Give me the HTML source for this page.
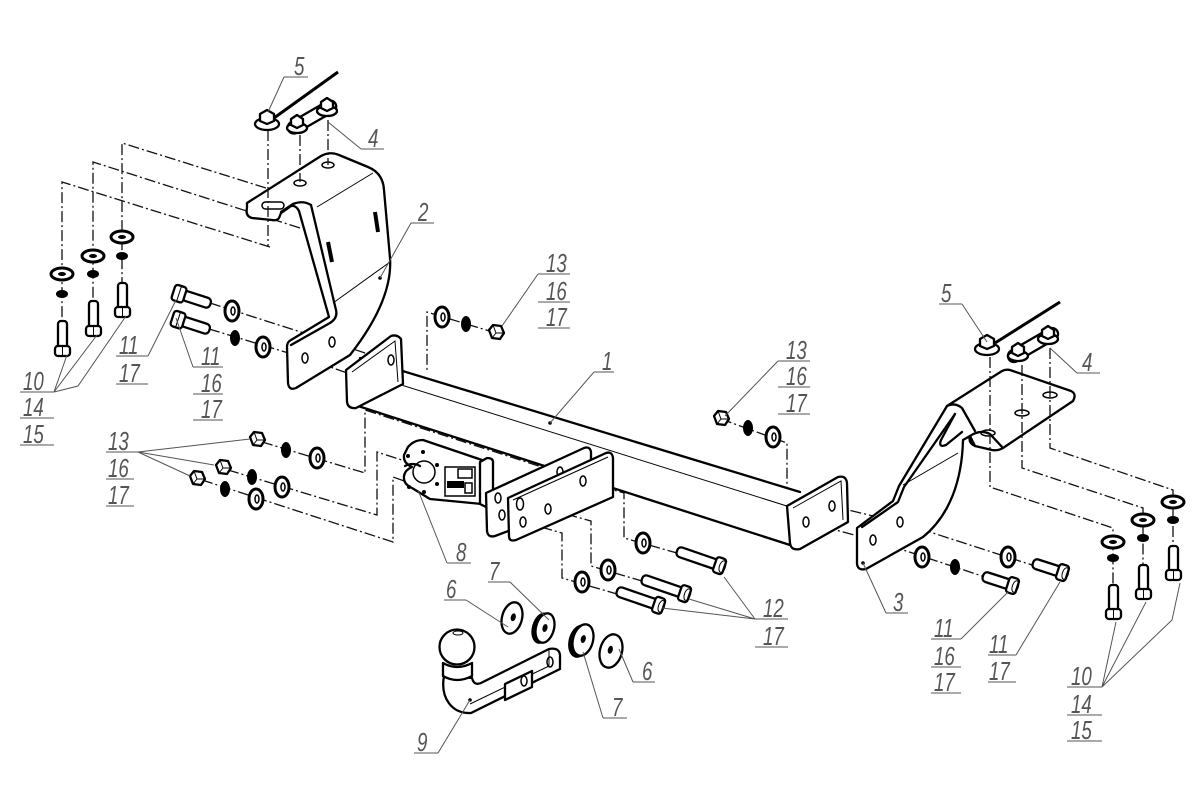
<!DOCTYPE html>
<html><head><meta charset="utf-8"><style>
html,body{margin:0;padding:0;background:#fff;}
svg{display:block;}
.o{fill:#fff;stroke:#000;stroke-width:2.3;stroke-linejoin:round;}
.n{fill:none;stroke:#000;stroke-width:2.3;stroke-linejoin:round;stroke-linecap:round;}
.t{fill:none;stroke:#000;stroke-width:1;}
.d{fill:none;stroke:#111;stroke-width:1.3;stroke-dasharray:11 3 2 3;}
.l{fill:none;stroke:#555;stroke-width:1;}
.w{fill:#fff;stroke:#000;stroke-width:3;}
.h{fill:none;stroke:#000;stroke-width:1.5;}
.k{fill:#000;}
text{font-family:"Liberation Sans",sans-serif;font-style:italic;font-size:26px;fill:#555;}
</style></head><body>
<svg width="1200" height="796" viewBox="0 0 1200 796" xmlns="http://www.w3.org/2000/svg">
<rect width="1200" height="796" fill="#fff"/>

<path class="d" d="M270,247 L62,182 V322"/>
<path class="d" d="M300,228 L93,162 V302"/>
<path class="d" d="M266,188 L122,143 V283"/>
<path class="d" d="M210,303 L332,342 L392,362"/>
<path class="d" d="M209,329 L305,358 L350,374"/>
<path class="d" d="M262,442 L365,473 V410 L545,468"/>
<path class="d" d="M228,470 L377,515 V452 L405,461"/>
<path class="d" d="M202,480 L393,542 V477 L410,483"/>
<path class="d" d="M496,333 L427,312 V372"/>
<path class="d" d="M721,419 L787,443 V492"/>
<path class="d" d="M523,522 L562,533 V578 L617,594"/>
<path class="d" d="M548,509 L591,521 V566 L642,581"/>
<path class="d" d="M583,481 L624,493 V538 L677,553"/>
<path class="d" d="M873,540 L985,577"/>
<path class="d" d="M902,523 L1035,566"/>
<path class="d" d="M806,522 L873,540"/>
<path class="d" d="M832,506 L902,523"/>

<path class="o" d="M247,203 L321,156 Q330,151 339,155 L368,167 Q383,173 384,190 L390,258 Q393,300 350,355 L296,388 Q289,391 288,383 L287,347 Q287,342 291,340 L329,317 L299,211 Q296,205 291,206 L281,213 L279,218 Q277,221 272,220 L252,218 Q245,216 247,208 Z"/>
<path class="n" d="M281,212 L293,204 Q303,200 311,205"/>
<path class="n" d="M311,205 L336,310 Q338,318 330,323 L291,345"/>
<path class="t" d="M317,207 L373,173"/>
<path class="t" d="M333,303 L390,262"/>
<rect x="262" y="202" width="22" height="7" rx="3.5" class="h" fill="#fff"/>
<ellipse cx="300" cy="183" rx="6" ry="3" class="h"/>
<ellipse cx="328" cy="165" rx="6" ry="3" class="h"/>
<line x1="375" y1="212" x2="378" y2="232" stroke="#000" stroke-width="4"/>
<line x1="328" y1="242" x2="332" y2="262" stroke="#000" stroke-width="4"/>
<ellipse cx="305" cy="358" rx="3" ry="5" class="h"/>
<ellipse cx="332" cy="342" rx="3" ry="5" class="h"/>
<circle cx="380" cy="278" r="1.8" fill="#000"/>

<path d="M360,358 L800,492 L790,545 L358,406 Z" fill="#fff"/>
<path class="n" d="M360,358 L800,492"/>
<path class="t" d="M360,372 L790,507"/>
<path class="n" d="M358,406 L790,545"/>
<path class="o" d="M346,370 L391,336 Q397,334 401,339 L403,384 L356,408 Q348,409 347,402 Z"/>
<path class="t" d="M352,372 L395,341 L398,382"/>
<ellipse cx="391" cy="360" rx="3" ry="5" class="h"/>
<path class="o" d="M787,506 L838,477 Q846,475 847,483 L848,522 L800,549 Q791,551 790,543 Z"/>
<path class="t" d="M793,508 L841,481 L843,520"/>
<ellipse cx="806" cy="522" rx="3" ry="5" class="h"/>
<ellipse cx="832" cy="506" rx="3" ry="5" class="h"/>
<circle cx="550" cy="423" r="1.8" fill="#000"/>

<path class="o" d="M408,447 Q414,440 423,440 L482,460 L482,504 L430,499 L412,488 Q403,484 404,476 Q405,470 412,467 Q403,463 404,455 Z"/>
<path class="n" d="M405,466 Q413,462 420,466"/>
<circle cx="424" cy="472" r="11" class="h" fill="#fff"/>
<circle cx="408" cy="456" r="2" fill="#000"/><circle cx="423" cy="452" r="2" fill="#000"/>
<circle cx="437" cy="465" r="2" fill="#000"/><circle cx="437" cy="484" r="2" fill="#000"/>
<circle cx="409" cy="487" r="2" fill="#000"/><circle cx="424" cy="492" r="2" fill="#000"/>
<path class="o" d="M480,462 L487,458 Q493,458 493,462 L493,503 L486,507 L480,504 Z"/>
<rect x="445" y="467" width="30" height="29" class="h"/>
<rect x="458" y="469" width="14" height="9" class="h"/>
<rect x="447" y="481" width="17" height="7" fill="#000"/>
<rect x="465" y="483" width="7" height="10" class="h"/>

<path class="o" d="M486,493 L584,448 Q590,446 591,452 L591,500 L495,536 Q488,538 487,531 Z"/>
<ellipse cx="498" cy="498" rx="3" ry="5" class="h"/>
<ellipse cx="502" cy="515" rx="3" ry="5" class="h"/>
<ellipse cx="560" cy="472" rx="3" ry="5" class="h"/>
<path class="o" d="M508,498 L606,453 Q612,451 613,458 L613,497 L516,540 Q509,542 509,536 Z"/>
<path class="t" d="M513,500 L608,457"/>
<ellipse cx="520" cy="504" rx="3.5" ry="6" class="h"/>
<ellipse cx="523" cy="522" rx="3" ry="5" class="h"/>
<ellipse cx="548" cy="509" rx="3" ry="5" class="h"/>
<ellipse cx="583" cy="481" rx="3" ry="5" class="h"/>

<path class="o" d="M963,440 C962,480 950,515 923,537 L866,569 Q858,571 857,564 L857,528 L893,501 L899,486 L947,406 L1002,371 Q1006,369 1010,370 L1071,391 Q1077,394 1073,401 L1003,448 Q998,451 992,450 L975,446 Q968,443 970,436 Z"/>
<path class="n" d="M955,414 L904,487 L898,502 L862,527"/>
<path class="n" d="M947,406 Q955,402 962,408 L975,431"/>
<path class="n" d="M955,414 L941,440 Q938,448 946,445 L962,432"/>
<path class="t" d="M903,485 L958,453"/>
<path class="n" d="M975,446 L970,436 Q980,429 990,434 L1003,448"/>
<ellipse cx="988" cy="433" rx="7" ry="3" class="h"/>
<ellipse cx="1022" cy="413" rx="7" ry="3" class="h"/>
<ellipse cx="1050" cy="395" rx="7" ry="3" class="h"/>
<ellipse cx="873" cy="540" rx="3" ry="5" class="h"/>
<ellipse cx="900" cy="522" rx="3" ry="5" class="h"/>
<circle cx="863" cy="563" r="1.8" fill="#000"/>

<path class="d" d="M268,130 V247"/>
<path class="d" d="M300,135 V182"/>
<path class="d" d="M328,120 V165"/>
<path class="d" d="M990,357 V487 L1113,528 V612"/>
<path class="d" d="M1022,365 V468 L1143,508 V592"/>
<path class="d" d="M1050,348 V448 L1173,490 V572"/>

<line x1="274" y1="118" x2="338" y2="72" stroke="#000" stroke-width="3"/>
<line x1="995" y1="343" x2="1060" y2="302" stroke="#000" stroke-width="3"/>
<g transform="translate(312,117) rotate(-30)"><rect x="-27" y="-6" width="54" height="12" rx="6" class="o"/></g>
<g transform="translate(1033,345) rotate(-30)"><rect x="-28" y="-6" width="56" height="12" rx="6" class="o"/></g>
<g class="o">
<ellipse cx="267" cy="124" rx="12" ry="6"/><path d="M260,121 L260,114 L267,110 L274,114 L274,121 L267,124 Z"/>
<ellipse cx="297" cy="128" rx="10" ry="5"/><path d="M291,125 L291,119 L297,115 L303,119 L303,125 L297,128 Z"/>
<ellipse cx="327" cy="111" rx="10" ry="5"/><path d="M321,108 L321,102 L327,98 L333,102 L333,108 L327,111 Z"/>
<ellipse cx="987" cy="349" rx="12" ry="6"/><path d="M980,346 L980,339 L987,335 L994,339 L994,346 L987,349 Z"/>
<ellipse cx="1018" cy="356" rx="10" ry="5"/><path d="M1012,353 L1012,347 L1018,343 L1024,347 L1024,353 L1018,356 Z"/>
<ellipse cx="1048" cy="339" rx="10" ry="5"/><path d="M1042,336 L1042,330 L1048,326 L1054,330 L1054,336 L1048,339 Z"/>
</g>

<g class="o" stroke-width="2.6">
<path d="M250,437 L254,432 L262,433 L265,440 L261,446 L253,445 Z"/>
<path d="M216,465 L220,460 L228,461 L231,468 L227,474 L219,473 Z"/>
<path d="M190,476 L194,471 L202,472 L205,479 L201,485 L193,484 Z"/>
<path d="M489,330 L493,325 L501,326 L504,333 L500,339 L492,338 Z"/>
<path d="M714,416 L718,411 L726,412 L729,419 L725,425 L717,424 Z"/>
</g>
<g class="t">
<path d="M254,432 L257,440 L265,440 M257,440 L253,445"/>
<path d="M220,460 L223,468 L231,468 M223,468 L219,473"/>
<path d="M194,471 L197,479 L205,479 M197,479 L193,484"/>
<path d="M493,325 L496,333 L504,333 M496,333 L492,338"/>
<path d="M718,411 L721,419 L729,419 M721,419 L717,424"/>
</g>

<g class="k">
<ellipse cx="286" cy="450" rx="5" ry="8"/><ellipse cx="252" cy="477" rx="5" ry="8"/><ellipse cx="225" cy="489" rx="5" ry="8"/>
<ellipse cx="466" cy="324" rx="5" ry="8"/><ellipse cx="748" cy="428" rx="5" ry="8"/>
<ellipse cx="235" cy="338" rx="5" ry="8"/><ellipse cx="955" cy="567" rx="5" ry="8"/>
</g>
<g>
<ellipse class="w" cx="317" cy="458" rx="7" ry="10"/><ellipse class="h" cx="318" cy="458" rx="2" ry="4"/>
<ellipse class="w" cx="282" cy="487" rx="7" ry="10"/><ellipse class="h" cx="283" cy="487" rx="2" ry="4"/>
<ellipse class="w" cx="256" cy="499" rx="7" ry="10"/><ellipse class="h" cx="257" cy="499" rx="2" ry="4"/>
<ellipse class="w" cx="442" cy="317" rx="7" ry="10"/><ellipse class="h" cx="443" cy="317" rx="2" ry="4"/>
<ellipse class="w" cx="773" cy="437" rx="7" ry="10"/><ellipse class="h" cx="774" cy="437" rx="2" ry="4"/>
<ellipse class="w" cx="232" cy="311" rx="7" ry="10"/><ellipse class="h" cx="233" cy="311" rx="2" ry="4"/>
<ellipse class="w" cx="263" cy="347" rx="7" ry="10"/><ellipse class="h" cx="264" cy="347" rx="2" ry="4"/>
<ellipse class="w" cx="922" cy="557" rx="7" ry="10"/><ellipse class="h" cx="923" cy="557" rx="2" ry="4"/>
<ellipse class="w" cx="1008" cy="557" rx="7" ry="10"/><ellipse class="h" cx="1009" cy="557" rx="2" ry="4"/>
<ellipse class="w" cx="582" cy="582" rx="7" ry="10"/><ellipse class="h" cx="583" cy="582" rx="2" ry="4"/>
<ellipse class="w" cx="608" cy="570" rx="7" ry="10"/><ellipse class="h" cx="609" cy="570" rx="2" ry="4"/>
<ellipse class="w" cx="643" cy="543" rx="7" ry="10"/><ellipse class="h" cx="644" cy="543" rx="2" ry="4"/>
</g>

<g transform="translate(180,294) rotate(18)"><rect x="3" y="-5" width="29" height="10" rx="4" class="o"/><rect x="-7" y="-8" width="12" height="16" rx="3" class="o"/><line x1="-1" y1="-8" x2="-1" y2="8" class="t"/></g>
<g transform="translate(179,320) rotate(18)"><rect x="3" y="-5" width="29" height="10" rx="4" class="o"/><rect x="-7" y="-8" width="12" height="16" rx="3" class="o"/><line x1="-1" y1="-8" x2="-1" y2="8" class="t"/></g>
<g transform="translate(983,576) rotate(18)"><rect x="0" y="-5" width="30" height="10" rx="4" class="o"/><rect x="26" y="-8" width="10" height="16" rx="3" class="o"/><ellipse cx="34" cy="0" rx="3" ry="6" class="t"/></g>
<g transform="translate(1033,563) rotate(18)"><rect x="0" y="-5" width="30" height="10" rx="4" class="o"/><rect x="26" y="-8" width="10" height="16" rx="3" class="o"/><ellipse cx="34" cy="0" rx="3" ry="6" class="t"/></g>
<g transform="translate(617,591) rotate(19)"><rect x="0" y="-5" width="43" height="10" rx="4" class="o"/><rect x="39" y="-8" width="10" height="16" rx="3" class="o"/><ellipse cx="47" cy="0" rx="3" ry="6" class="t"/></g>
<g transform="translate(642,579) rotate(19)"><rect x="0" y="-5" width="44" height="10" rx="4" class="o"/><rect x="40" y="-8" width="10" height="16" rx="3" class="o"/><ellipse cx="48" cy="0" rx="3" ry="6" class="t"/></g>
<g transform="translate(677,551) rotate(19)"><rect x="0" y="-5" width="44" height="10" rx="4" class="o"/><rect x="40" y="-8" width="10" height="16" rx="3" class="o"/><ellipse cx="48" cy="0" rx="3" ry="6" class="t"/></g>

<g>
<ellipse class="w" cx="62" cy="274" rx="11" ry="6" stroke-width="2.5"/><ellipse class="k" cx="62" cy="274" rx="4" ry="2"/>
<ellipse class="w" cx="93" cy="256" rx="11" ry="6" stroke-width="2.5"/><ellipse class="k" cx="93" cy="256" rx="4" ry="2"/>
<ellipse class="w" cx="122" cy="237" rx="11" ry="6" stroke-width="2.5"/><ellipse class="k" cx="122" cy="237" rx="4" ry="2"/>
<ellipse class="w" cx="1113" cy="542" rx="11" ry="6" stroke-width="2.5"/><ellipse class="k" cx="1113" cy="542" rx="4" ry="2"/>
<ellipse class="w" cx="1143" cy="520" rx="11" ry="6" stroke-width="2.5"/><ellipse class="k" cx="1143" cy="520" rx="4" ry="2"/>
<ellipse class="w" cx="1173" cy="502" rx="11" ry="6" stroke-width="2.5"/><ellipse class="k" cx="1173" cy="502" rx="4" ry="2"/>
</g>
<g class="k">
<ellipse cx="62" cy="294" rx="6" ry="4"/><ellipse cx="93" cy="274" rx="6" ry="4"/><ellipse cx="122" cy="256" rx="6" ry="4"/>
<ellipse cx="1113" cy="558" rx="6" ry="4"/><ellipse cx="1143" cy="538" rx="6" ry="4"/><ellipse cx="1173" cy="520" rx="6" ry="4"/>
</g>
<g>
<rect x="58" y="321" width="9" height="28" rx="3" class="o"/><rect x="55" y="346" width="15" height="10" rx="3" class="o"/><line x1="62.5" y1="346" x2="62.5" y2="356" class="t"/>
<rect x="89" y="301" width="9" height="28" rx="3" class="o"/><rect x="86" y="326" width="15" height="10" rx="3" class="o"/><line x1="93.5" y1="326" x2="93.5" y2="336" class="t"/>
<rect x="118" y="283" width="9" height="27" rx="3" class="o"/><rect x="115" y="307" width="15" height="10" rx="3" class="o"/><line x1="122.5" y1="307" x2="122.5" y2="317" class="t"/>
<rect x="1109" y="585" width="9" height="27" rx="3" class="o"/><rect x="1106" y="609" width="15" height="10" rx="3" class="o"/><line x1="1113.5" y1="609" x2="1113.5" y2="619" class="t"/>
<rect x="1139" y="565" width="9" height="27" rx="3" class="o"/><rect x="1136" y="589" width="15" height="10" rx="3" class="o"/><line x1="1143.5" y1="589" x2="1143.5" y2="599" class="t"/>
<rect x="1169" y="546" width="9" height="27" rx="3" class="o"/><rect x="1166" y="570" width="15" height="10" rx="3" class="o"/><line x1="1173.5" y1="570" x2="1173.5" y2="580" class="t"/>
</g>

<g transform="rotate(15 512 618)"><ellipse cx="512" cy="618" rx="10" ry="16" class="o" stroke-width="2.5"/><ellipse cx="513" cy="617" rx="2.5" ry="4" class="k"/></g>
<g transform="rotate(15 545 628)"><ellipse cx="542" cy="629" rx="10" ry="16" class="k"/><ellipse cx="545" cy="628" rx="9" ry="15" class="o"/><ellipse cx="545" cy="628" rx="2.5" ry="4" class="k"/></g>
<g transform="rotate(15 583 640)"><ellipse cx="580" cy="642" rx="11" ry="17" class="k"/><ellipse cx="583" cy="640" rx="10" ry="16" class="o"/><ellipse cx="583" cy="639" rx="2.5" ry="4" class="k"/></g>
<g transform="rotate(15 611 651)"><ellipse cx="611" cy="651" rx="11" ry="17" class="o" stroke-width="2.5"/><ellipse cx="610" cy="650" rx="2.5" ry="4" class="k"/></g>

<path class="o" d="M444,676 C440,698 452,714 471,713 L560,669 L560,655 Q559,647 549,649 L481,683 Q474,686 472,678 Z"/>
<path class="t" d="M549,650 L549,666 L470,704"/>
<path class="o" d="M505,684 L532,671 L532,687 L505,700 Z"/>
<ellipse cx="524" cy="681" rx="3" ry="5" class="h"/>
<ellipse cx="550" cy="662" rx="3" ry="5" class="h"/>
<path class="o" d="M443,663 Q457,671 472,663 L472,676 Q457,684 443,676 Z"/>
<circle cx="457" cy="647" r="17.5" class="o"/>
<ellipse cx="458" cy="633" rx="5" ry="2" class="t"/>
<circle cx="470" cy="700" r="1.8" fill="#000"/>

<g class="l">
<path d="M284,77 L268,112"/><line x1="284" y1="77" x2="308" y2="77"/>
<path d="M361,149 L328,122"/><line x1="361" y1="149" x2="384" y2="149"/>
<path d="M411,223 L380,278"/><line x1="411" y1="223" x2="434" y2="223"/>
<path d="M54,392 L67,355 M54,392 L97,335 M54,392 L78,386 L126,316"/>
<line x1="20" y1="392" x2="54" y2="392"/><line x1="20" y1="418" x2="54" y2="418"/><line x1="20" y1="445" x2="54" y2="445"/>
<path d="M148,356 L176,300"/><line x1="116" y1="356" x2="148" y2="356"/><line x1="116" y1="384" x2="148" y2="384"/>
<path d="M193,367 L176,318"/><line x1="193" y1="367" x2="223" y2="367"/><line x1="193" y1="394" x2="223" y2="394"/><line x1="193" y1="420" x2="223" y2="420"/>
<path d="M138,452 L250,439 M138,452 L214,465 M138,452 L190,476"/>
<line x1="106" y1="452" x2="138" y2="452"/><line x1="106" y1="479" x2="134" y2="479"/><line x1="106" y1="506" x2="134" y2="506"/>
<path d="M538,274 L502,326"/><line x1="538" y1="274" x2="570" y2="274"/><line x1="538" y1="302" x2="570" y2="302"/><line x1="538" y1="328" x2="570" y2="328"/>
<path d="M594,372 L550,423"/><line x1="594" y1="372" x2="614" y2="372"/>
<path d="M778,361 L725,416"/><line x1="778" y1="361" x2="810" y2="361"/><line x1="778" y1="387" x2="810" y2="387"/><line x1="778" y1="414" x2="810" y2="414"/>
<path d="M962,304 L987,342"/><line x1="939" y1="304" x2="962" y2="304"/>
<path d="M1077,373 L1050,348"/><line x1="1077" y1="373" x2="1100" y2="373"/>
<path d="M886,613 L863,563"/><line x1="886" y1="613" x2="908" y2="613"/>
<path d="M447,563 L418,490"/><line x1="447" y1="563" x2="471" y2="563"/>
<path d="M466,600 L508,627"/><line x1="444" y1="600" x2="466" y2="600"/>
<path d="M510,582 L549,620"/><line x1="488" y1="582" x2="510" y2="582"/>
<path d="M755,619 L724,577 M755,619 L689,599 M755,619 L662,608"/>
<line x1="755" y1="619" x2="788" y2="619"/><line x1="755" y1="647" x2="788" y2="647"/>
<path d="M633,682 L619,649"/><line x1="633" y1="682" x2="655" y2="682"/>
<path d="M603,718 L583,652"/><line x1="603" y1="718" x2="627" y2="718"/>
<path d="M438,753 L470,700"/><line x1="414" y1="753" x2="438" y2="753"/>
<path d="M961,639 L1008,592"/><line x1="931" y1="639" x2="961" y2="639"/><line x1="931" y1="667" x2="961" y2="667"/><line x1="931" y1="693" x2="961" y2="693"/>
<path d="M1016,655 L1060,582"/><line x1="988" y1="655" x2="1016" y2="655"/><line x1="988" y1="682" x2="1016" y2="682"/>
<path d="M1102,687 L1116,622 M1102,687 L1146,602 M1102,687 L1172,620 L1180,583"/>
<line x1="1067" y1="687" x2="1102" y2="687"/><line x1="1067" y1="715" x2="1102" y2="715"/><line x1="1067" y1="741" x2="1102" y2="741"/>
</g>

<text transform="matrix(0.72 0 0 1 294 75)">5</text>
<text transform="matrix(0.72 0 0 1 368 147)">4</text>
<text transform="matrix(0.72 0 0 1 418 221)">2</text>
<text transform="matrix(0.72 0 0 1 23 390)">10</text>
<text transform="matrix(0.72 0 0 1 23 416)">14</text>
<text transform="matrix(0.72 0 0 1 23 443)">15</text>
<text transform="matrix(0.72 0 0 1 119 354)">11</text>
<text transform="matrix(0.72 0 0 1 119 382)">17</text>
<text transform="matrix(0.72 0 0 1 201 365)">11</text>
<text transform="matrix(0.72 0 0 1 201 392)">16</text>
<text transform="matrix(0.72 0 0 1 201 418)">17</text>
<text transform="matrix(0.72 0 0 1 108 450)">13</text>
<text transform="matrix(0.72 0 0 1 108 477)">16</text>
<text transform="matrix(0.72 0 0 1 108 504)">17</text>
<text transform="matrix(0.72 0 0 1 546 272)">13</text>
<text transform="matrix(0.72 0 0 1 546 300)">16</text>
<text transform="matrix(0.72 0 0 1 546 326)">17</text>
<text transform="matrix(0.72 0 0 1 602 370)">1</text>
<text transform="matrix(0.72 0 0 1 786 359)">13</text>
<text transform="matrix(0.72 0 0 1 786 385)">16</text>
<text transform="matrix(0.72 0 0 1 786 412)">17</text>
<text transform="matrix(0.72 0 0 1 941 302)">5</text>
<text transform="matrix(0.72 0 0 1 1082 371)">4</text>
<text transform="matrix(0.72 0 0 1 893 611)">3</text>
<text transform="matrix(0.72 0 0 1 456 561)">8</text>
<text transform="matrix(0.72 0 0 1 446 598)">6</text>
<text transform="matrix(0.72 0 0 1 489 580)">7</text>
<text transform="matrix(0.72 0 0 1 763 617)">12</text>
<text transform="matrix(0.72 0 0 1 763 645)">17</text>
<text transform="matrix(0.72 0 0 1 642 680)">6</text>
<text transform="matrix(0.72 0 0 1 612 716)">7</text>
<text transform="matrix(0.72 0 0 1 417 751)">9</text>
<text transform="matrix(0.72 0 0 1 934 637)">11</text>
<text transform="matrix(0.72 0 0 1 934 665)">16</text>
<text transform="matrix(0.72 0 0 1 934 691)">17</text>
<text transform="matrix(0.72 0 0 1 989 653)">11</text>
<text transform="matrix(0.72 0 0 1 989 680)">17</text>
<text transform="matrix(0.72 0 0 1 1071 685)">10</text>
<text transform="matrix(0.72 0 0 1 1071 713)">14</text>
<text transform="matrix(0.72 0 0 1 1071 739)">15</text>
</svg>
</body></html>
